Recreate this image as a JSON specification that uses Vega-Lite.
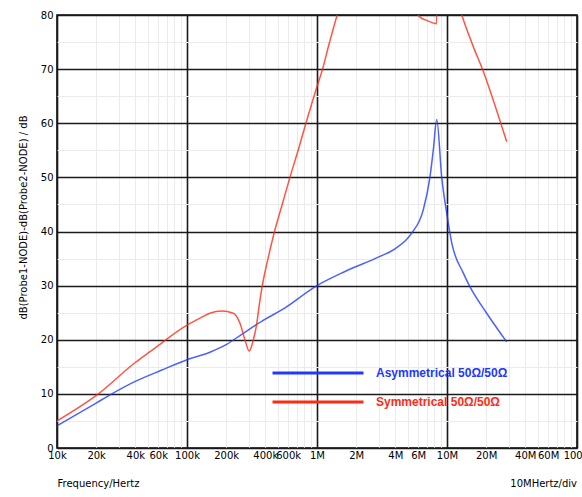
{
  "$schema": "https://vega.github.io/schema/vega-lite/v6.json",
  "width": 520,
  "height": 433,
  "autosize": {"type": "none"},
  "padding": {"left": 57, "top": 15, "right": 5, "bottom": 49},
  "background": "white",
  "config": {"view": {"stroke": "black", "strokeWidth": 1.5}, "font": "DejaVu Sans"},
  "title": {"text": "10MHertz/div", "orient": "bottom", "anchor": "end", "frame": "group", "fontSize": 10, "fontWeight": "normal", "font": "DejaVu Sans", "color": "black", "offset": -9},
  "data": {"values": [
    {"f": 10000, "db": 4.1, "s": "Asymmetrical 50Ω/50Ω"},
    {"f": 20000, "db": 8.3, "s": "Asymmetrical 50Ω/50Ω"},
    {"f": 26400, "db": 10.0, "s": "Asymmetrical 50Ω/50Ω"},
    {"f": 40000, "db": 12.3, "s": "Asymmetrical 50Ω/50Ω"},
    {"f": 64000, "db": 14.4, "s": "Asymmetrical 50Ω/50Ω"},
    {"f": 100000, "db": 16.3, "s": "Asymmetrical 50Ω/50Ω"},
    {"f": 150000, "db": 17.7, "s": "Asymmetrical 50Ω/50Ω"},
    {"f": 200000, "db": 19.1, "s": "Asymmetrical 50Ω/50Ω"},
    {"f": 271000, "db": 21.2, "s": "Asymmetrical 50Ω/50Ω"},
    {"f": 400000, "db": 23.8, "s": "Asymmetrical 50Ω/50Ω"},
    {"f": 535000, "db": 25.5, "s": "Asymmetrical 50Ω/50Ω"},
    {"f": 1000000, "db": 30.0, "s": "Asymmetrical 50Ω/50Ω"},
    {"f": 1640000, "db": 32.6, "s": "Asymmetrical 50Ω/50Ω"},
    {"f": 3050000, "db": 35.4, "s": "Asymmetrical 50Ω/50Ω"},
    {"f": 3980000, "db": 36.8, "s": "Asymmetrical 50Ω/50Ω"},
    {"f": 5350000, "db": 39.7, "s": "Asymmetrical 50Ω/50Ω"},
    {"f": 6570000, "db": 44.0, "s": "Asymmetrical 50Ω/50Ω"},
    {"f": 7400000, "db": 50.1, "s": "Asymmetrical 50Ω/50Ω"},
    {"f": 7850000, "db": 55.1, "s": "Asymmetrical 50Ω/50Ω"},
    {"f": 8340000, "db": 60.7, "s": "Asymmetrical 50Ω/50Ω"},
    {"f": 9100000, "db": 50.1, "s": "Asymmetrical 50Ω/50Ω"},
    {"f": 9950000, "db": 43.4, "s": "Asymmetrical 50Ω/50Ω"},
    {"f": 10900000, "db": 37.8, "s": "Asymmetrical 50Ω/50Ω"},
    {"f": 13300000, "db": 32.4, "s": "Asymmetrical 50Ω/50Ω"},
    {"f": 15000000, "db": 29.8, "s": "Asymmetrical 50Ω/50Ω"},
    {"f": 20200000, "db": 24.9, "s": "Asymmetrical 50Ω/50Ω"},
    {"f": 28800000, "db": 19.6, "s": "Asymmetrical 50Ω/50Ω"},
    {"f": 10000, "db": 5.0, "s": "Symmetrical 50Ω/50Ω"},
    {"f": 20800, "db": 10.0, "s": "Symmetrical 50Ω/50Ω"},
    {"f": 40000, "db": 15.8, "s": "Symmetrical 50Ω/50Ω"},
    {"f": 52000, "db": 17.8, "s": "Symmetrical 50Ω/50Ω"},
    {"f": 100000, "db": 22.7, "s": "Symmetrical 50Ω/50Ω"},
    {"f": 126000, "db": 24.0, "s": "Symmetrical 50Ω/50Ω"},
    {"f": 150000, "db": 24.9, "s": "Symmetrical 50Ω/50Ω"},
    {"f": 185000, "db": 25.3, "s": "Symmetrical 50Ω/50Ω"},
    {"f": 227000, "db": 24.9, "s": "Symmetrical 50Ω/50Ω"},
    {"f": 256000, "db": 23.0, "s": "Symmetrical 50Ω/50Ω"},
    {"f": 279000, "db": 20.0, "s": "Symmetrical 50Ω/50Ω"},
    {"f": 301000, "db": 17.9, "s": "Symmetrical 50Ω/50Ω"},
    {"f": 324000, "db": 20.0, "s": "Symmetrical 50Ω/50Ω"},
    {"f": 344000, "db": 23.0, "s": "Symmetrical 50Ω/50Ω"},
    {"f": 360000, "db": 26.5, "s": "Symmetrical 50Ω/50Ω"},
    {"f": 379000, "db": 29.9, "s": "Symmetrical 50Ω/50Ω"},
    {"f": 420000, "db": 35.0, "s": "Symmetrical 50Ω/50Ω"},
    {"f": 470000, "db": 39.9, "s": "Symmetrical 50Ω/50Ω"},
    {"f": 540000, "db": 45.0, "s": "Symmetrical 50Ω/50Ω"},
    {"f": 619000, "db": 50.0, "s": "Symmetrical 50Ω/50Ω"},
    {"f": 720000, "db": 55.2, "s": "Symmetrical 50Ω/50Ω"},
    {"f": 822000, "db": 60.0, "s": "Symmetrical 50Ω/50Ω"},
    {"f": 1000000, "db": 66.8, "s": "Symmetrical 50Ω/50Ω"},
    {"f": 1100000, "db": 69.9, "s": "Symmetrical 50Ω/50Ω"},
    {"f": 1250000, "db": 75.0, "s": "Symmetrical 50Ω/50Ω"},
    {"f": 1430000, "db": 80.0, "s": "Symmetrical 50Ω/50Ω"},
    {"f": 2000000, "db": 89.0, "s": "Symmetrical 50Ω/50Ω"},
    {"f": 3000000, "db": 93.0, "s": "Symmetrical 50Ω/50Ω"},
    {"f": 4000000, "db": 91.0, "s": "Symmetrical 50Ω/50Ω"},
    {"f": 5000000, "db": 86.0, "s": "Symmetrical 50Ω/50Ω"},
    {"f": 6010000, "db": 80.0, "s": "Symmetrical 50Ω/50Ω"},
    {"f": 6200000, "db": 79.6, "s": "Symmetrical 50Ω/50Ω"},
    {"f": 7000000, "db": 79.0, "s": "Symmetrical 50Ω/50Ω"},
    {"f": 8340000, "db": 78.4, "s": "Symmetrical 50Ω/50Ω"},
    {"f": 8380000, "db": 100.0, "s": "Symmetrical 50Ω/50Ω"},
    {"f": 10000000, "db": 90.0, "s": "Symmetrical 50Ω/50Ω"},
    {"f": 13000000, "db": 80.0, "s": "Symmetrical 50Ω/50Ω"},
    {"f": 15900000, "db": 74.2, "s": "Symmetrical 50Ω/50Ω"},
    {"f": 19000000, "db": 69.6, "s": "Symmetrical 50Ω/50Ω"},
    {"f": 24000000, "db": 62.5, "s": "Symmetrical 50Ω/50Ω"},
    {"f": 28800000, "db": 56.6, "s": "Symmetrical 50Ω/50Ω"}
  ]},
  "mark": {"type": "line", "clip": true, "interpolate": "monotone", "strokeWidth": 1.5, "strokeOpacity": 0.8},
  "encoding": {
    "x": {
      "field": "f", "type": "quantitative",
      "scale": {"type": "log", "domain": [10000, 100000000], "nice": false},
      "axis": {
        "values": [10000,20000,30000,40000,50000,60000,70000,80000,90000,100000,200000,300000,400000,500000,600000,700000,800000,900000,1000000,2000000,3000000,4000000,5000000,6000000,7000000,8000000,9000000,10000000,20000000,30000000,40000000,50000000,60000000,70000000,80000000,90000000,100000000],
        "labelExpr": "indexof([1,2,4,6], round(datum.value/pow(10, floor(log(datum.value)/LN10+1e-9)))) < 0 ? '' : (datum.value >= 1000000 ? round(datum.value/1000000) + 'M' : round(datum.value/1000) + 'k')",
        "labelOverlap": false, "labelFlush": false, "labelBound": false,
        "labelFontSize": 10, "labelColor": "black", "labelPadding": 2,
        "ticks": false, "domain": false,
        "grid": true,
        "gridColor": {"condition": {"test": "abs(log(datum.value)/LN10 - round(log(datum.value)/LN10)) < 0.000001", "value": "#1a1a1a"}, "value": "#ebebeb"},
        "gridWidth": {"condition": {"test": "abs(log(datum.value)/LN10 - round(log(datum.value)/LN10)) < 0.000001", "value": 1.6}, "value": 1},
        "title": "Frequency/Hertz",
        "titleX": 0, "titleY": 35, "titleAlign": "left", "titleBaseline": "middle",
        "titleFontSize": 10, "titleFontWeight": "normal", "titleColor": "black"
      }
    },
    "y": {
      "field": "db", "type": "quantitative",
      "scale": {"domain": [0, 80], "nice": false, "zero": false},
      "axis": {
        "values": [0,5,10,15,20,25,30,35,40,45,50,55,60,65,70,75,80],
        "labelExpr": "datum.value % 10 == 0 ? datum.label : ''",
        "labelFontSize": 10, "labelColor": "black", "labelPadding": 4,
        "ticks": false, "domain": false, "grid": true,
        "gridColor": {"condition": {"test": "datum.value % 10 == 0", "value": "#1a1a1a"}, "value": "#ebebeb"},
        "gridWidth": {"condition": {"test": "datum.value % 10 == 0", "value": 1.6}, "value": 1},
        "title": "dB(Probe1-NODE)-dB(Probe2-NODE) / dB",
        "titleX": -34, "titleY": 202, "titleAlign": "center", "titleBaseline": "middle",
        "titleFontSize": 10, "titleFontWeight": "normal", "titleColor": "black"
      }
    },
    "color": {
      "field": "s", "type": "nominal",
      "scale": {"domain": ["Asymmetrical 50Ω/50Ω", "Symmetrical 50Ω/50Ω"], "range": ["#2238ff", "#ff2a14"]},
      "legend": {
        "orient": "none", "legendX": 248, "legendY": 345, "title": null,
        "symbolType": "M-4,0H4", "symbolSize": 517, "symbolStrokeWidth": 3, "symbolOpacity": 1,
        "labelFont": "Liberation Sans", "labelFontSize": 12, "labelFontWeight": "bold",
        "labelOffset": 45, "labelLimit": 300, "padding": 0, "rowPadding": 10,
        "encode": {"labels": {"update": {"fill": {"scale": "color", "field": "value"}}}}
      }
    }
  }
}
